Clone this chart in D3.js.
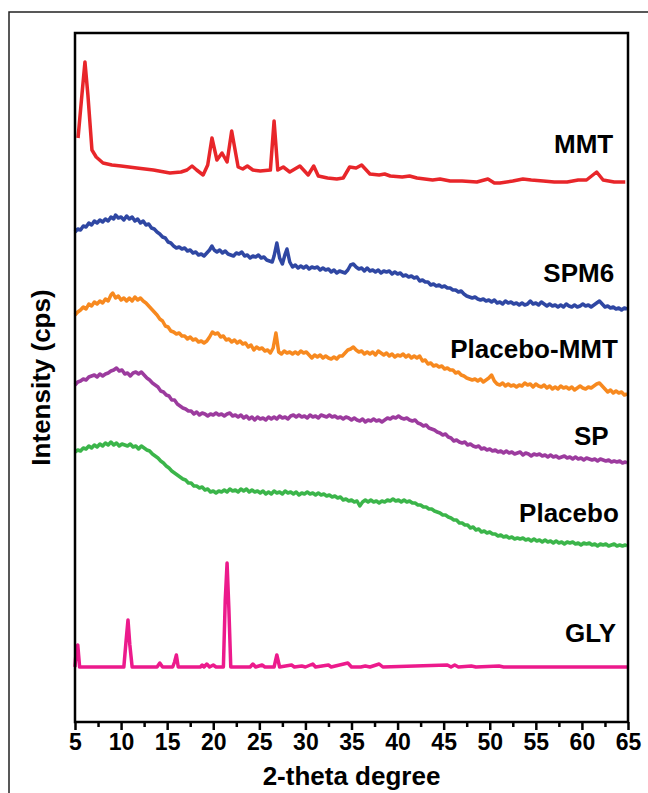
<!DOCTYPE html>
<html>
<head>
<meta charset="utf-8">
<script src="https://cdn.jsdelivr.net/npm/d3@7/dist/d3.min.js"></script>
<style>
  html, body { margin: 0; padding: 0; background: #fff; }
  svg { display: block; }
  text { font-family: "Liberation Sans", Arial, sans-serif; font-weight: bold; fill: #000; }
</style>
</head>
<body>
<svg id="chart" width="648" height="793"></svg>
<script>
// ---------------- DATA (2-theta in degrees, intensity in arbitrary units incl. stacking offset) ----------------
const xTicks = [5, 10, 15, 20, 25, 30, 35, 40, 45, 50, 55, 60, 65];
const seriesNames = ["MMT", "SPM6", "Placebo-MMT", "SP", "Placebo", "GLY"];
const seriesColors = ["#e8262a", "#2f47a3", "#f7891f", "#9c3b9e", "#3bb54a", "#ec1a8c"];

const mmt = [[5.33,584],[5.7,622],[6.08,660],[6.4,627],[6.84,572],[7.3,565],[8.04,559],[9,557],[10,556],[11.7,554],[13.5,552],[15.3,549],[16.5,550],[17.15,552],[17.7,556],[18.2,552],[18.9,547],[19.4,557],[19.86,584],[20.4,562],[20.95,569],[21.5,560],[22.0,591],[22.7,555],[23.2,553],[23.7,556],[24.3,552],[25.1,551],[26.2,552],[26.6,601],[27.0,552],[27.6,555],[28.3,550],[29.4,556],[30.3,547],[30.9,556],[31.4,546],[32.4,544],[33.4,543],[34.1,544],[34.8,555],[35.5,554],[36.1,557],[37.0,548],[38,547],[38.6,548],[39.2,546],[40.5,545],[41.3,546],[42.1,544],[43.8,542],[44.6,543],[45.7,541],[47,541],[48.6,540],[49.8,543],[50.5,539],[51.1,539],[52.5,541],[53.6,543],[54.5,542],[55.8,541],[57,540],[58.4,540],[59.6,542],[60.5,542],[61.6,550],[62.3,542],[63.5,540],[64.7,540]];

const spm6 = [[5.0,490],[5.3,493],[5.6,492],[5.9,496],[6.2,495],[6.5,499],[6.8,497],[7.1,501],[7.4,499],[7.7,502],[8.0,500],[8.3,503],[8.6,501],[8.9,505],[9.2,503],[9.4,507],[9.7,504],[10.0,505],[10.3,502],[10.6,506],[10.9,503],[11.2,505],[11.5,501],[11.8,503],[12.1,499],[12.4,501],[12.7,497],[13.0,498],[13.3,494],[13.6,493],[13.9,490],[14.2,488],[14.5,485],[14.8,484],[15.1,480],[15.4,479],[15.7,476],[16.0,474],[16.3,475],[16.6,473],[16.9,474],[17.2,471],[17.5,472],[17.8,469],[18.1,470],[18.4,467],[18.7,468],[19.0,466],[19.3,469],[19.6,472],[19.86,476],[20.1,472],[20.4,470],[20.7,472],[21.0,469],[21.3,471],[21.6,468],[21.9,467],[22.2,466],[22.5,469],[22.8,468],[23.1,470],[23.4,466],[23.7,467],[24.0,464],[24.3,466],[24.6,465],[24.9,467],[25.2,464],[25.5,465],[25.8,462],[26.1,461],[26.4,460],[26.6,466],[26.9,479],[27.2,464],[27.5,458],[27.8,468],[28.0,473],[28.3,460],[28.6,455],[28.9,457],[29.2,454],[29.5,456],[29.8,454],[30.1,456],[30.4,453],[30.7,455],[31.0,454],[31.3,455],[31.6,452],[31.9,454],[32.2,452],[32.5,453],[32.8,450],[33.1,452],[33.4,449],[33.7,451],[34.0,450],[34.3,449],[34.6,452],[34.9,457],[35.2,458],[35.5,455],[35.8,453],[36.1,454],[36.4,451],[36.7,454],[37.0,451],[37.3,452],[37.6,450],[37.9,452],[38.2,449],[38.5,451],[38.8,450],[39.1,451],[39.4,448],[39.7,450],[40.0,448],[40.3,449],[40.6,446],[40.9,447],[41.2,445],[41.5,446],[41.8,444],[42.1,445],[42.4,441],[42.7,442],[43.0,440],[43.3,440],[43.6,437],[43.9,438],[44.2,436],[44.5,437],[44.8,435],[45.1,436],[45.4,434],[45.7,434],[46.0,432],[46.3,432],[46.6,430],[46.9,431],[47.2,428],[47.5,426],[47.8,425],[48.1,424],[48.4,425],[48.7,423],[49.0,422],[49.3,423],[49.6,421],[49.9,422],[50.2,420],[50.5,422],[50.8,419],[51.1,420],[51.4,418],[51.7,421],[52.0,419],[52.3,420],[52.6,418],[52.9,419],[53.2,417],[53.5,419],[53.8,417],[54.1,418],[54.4,421],[54.7,418],[55.0,419],[55.3,417],[55.6,420],[55.9,418],[56.2,416],[56.5,418],[56.8,416],[57.1,417],[57.4,415],[57.7,417],[58.0,415],[58.3,418],[58.6,416],[58.9,415],[59.2,417],[59.5,415],[59.8,416],[60.1,418],[60.4,416],[60.7,417],[61.0,415],[61.3,417],[61.6,419],[61.9,421],[62.2,418],[62.5,415],[62.8,416],[63.1,414],[63.4,415],[63.7,413],[64.0,414],[64.3,412],[64.6,414],[64.9,413]];

const placeboMmt = [[5.0,407],[5.3,410],[5.6,412],[5.9,415],[6.2,413],[6.5,418],[6.8,416],[7.1,420],[7.4,418],[7.7,421],[8.0,419],[8.3,423],[8.6,421],[8.9,427],[9.1,429],[9.4,424],[9.7,426],[10.0,422],[10.3,424],[10.6,421],[10.9,424],[11.2,421],[11.5,425],[11.8,422],[12.1,424],[12.4,421],[12.7,419],[13.0,416],[13.3,413],[13.6,410],[13.9,407],[14.2,403],[14.5,401],[14.8,396],[15.1,395],[15.4,391],[15.7,390],[16.0,388],[16.3,389],[16.6,386],[16.9,386],[17.2,383],[17.5,385],[17.8,382],[18.1,383],[18.4,380],[18.7,381],[19.0,379],[19.3,381],[19.6,385],[19.9,390],[20.2,388],[20.5,389],[20.8,385],[21.1,386],[21.4,382],[21.7,383],[22.0,380],[22.3,382],[22.6,379],[22.9,381],[23.2,378],[23.5,379],[23.8,375],[24.1,377],[24.4,372],[24.7,375],[25.0,373],[25.3,374],[25.6,371],[25.9,372],[26.2,369],[26.5,374],[26.8,389],[27.1,370],[27.4,368],[27.7,371],[28.0,369],[28.3,370],[28.6,368],[28.9,370],[29.2,368],[29.5,371],[29.8,369],[30.1,370],[30.4,367],[30.7,364],[31.0,367],[31.3,365],[31.6,367],[31.9,364],[32.2,366],[32.5,364],[32.8,363],[33.1,365],[33.4,363],[33.7,366],[34.0,366],[34.3,369],[34.6,372],[34.9,373],[35.2,375],[35.5,372],[35.8,370],[36.1,371],[36.4,368],[36.7,370],[37.0,368],[37.3,370],[37.6,367],[37.9,371],[38.2,369],[38.5,367],[38.8,369],[39.1,366],[39.4,368],[39.7,365],[40.0,367],[40.3,366],[40.6,368],[40.9,365],[41.2,367],[41.5,364],[41.8,366],[42.1,364],[42.4,366],[42.7,361],[43.0,362],[43.3,358],[43.6,359],[43.9,356],[44.2,357],[44.5,355],[44.8,356],[45.1,353],[45.4,354],[45.7,352],[46.0,352],[46.3,349],[46.6,350],[46.9,347],[47.2,346],[47.5,344],[47.8,343],[48.1,342],[48.4,343],[48.7,341],[49.0,343],[49.3,340],[49.6,342],[49.9,344],[50.2,347],[50.5,341],[50.8,338],[51.1,337],[51.4,339],[51.7,336],[52.0,338],[52.3,336],[52.6,337],[52.9,335],[53.2,337],[53.5,336],[53.8,339],[54.1,337],[54.4,338],[54.7,335],[55.0,338],[55.3,336],[55.6,335],[55.9,337],[56.2,334],[56.5,336],[56.8,333],[57.1,335],[57.4,333],[57.7,336],[58.0,334],[58.3,335],[58.6,333],[58.9,335],[59.2,332],[59.5,334],[59.8,336],[60.1,334],[60.4,333],[60.7,335],[61.0,334],[61.3,336],[61.6,338],[61.9,339],[62.2,336],[62.5,333],[62.8,330],[63.1,332],[63.4,329],[63.7,331],[64.0,329],[64.3,330],[64.6,327],[64.9,328]];

const sp = [[5.0,337],[5.3,340],[5.6,341],[5.9,343],[6.2,342],[6.5,345],[6.8,346],[7.1,347],[7.4,345],[7.7,348],[8.0,346],[8.3,348],[8.6,349],[8.9,351],[9.2,352],[9.5,354],[9.8,351],[10.1,352],[10.4,348],[10.7,349],[11.0,346],[11.3,349],[11.6,350],[11.9,348],[12.2,350],[12.5,347],[12.8,344],[13.1,342],[13.4,339],[13.7,337],[14.0,335],[14.3,331],[14.6,330],[14.9,327],[15.2,326],[15.5,322],[15.8,322],[16.1,318],[16.4,316],[16.7,314],[17.0,313],[17.3,311],[17.6,311],[17.9,308],[18.2,310],[18.5,307],[18.8,309],[19.1,308],[19.4,306],[19.7,308],[20.0,307],[20.3,309],[20.6,307],[20.9,308],[21.2,306],[21.5,308],[21.8,309],[22.1,306],[22.4,307],[22.7,305],[23.0,307],[23.3,304],[23.6,306],[23.9,303],[24.2,305],[24.5,302],[24.8,305],[25.1,303],[25.4,304],[25.7,302],[26.0,305],[26.3,303],[26.6,305],[26.9,303],[27.2,306],[27.5,304],[27.8,305],[28.1,303],[28.4,306],[28.7,307],[29.0,305],[29.3,307],[29.6,305],[29.9,306],[30.2,304],[30.5,307],[30.8,305],[31.1,306],[31.4,304],[31.7,307],[32.0,306],[32.3,305],[32.6,307],[32.9,305],[33.2,306],[33.5,304],[33.8,305],[34.1,303],[34.4,305],[34.7,304],[35.0,302],[35.3,304],[35.6,302],[35.9,301],[36.2,303],[36.5,300],[36.8,302],[37.1,301],[37.4,303],[37.7,301],[38.0,302],[38.3,300],[38.6,302],[38.9,304],[39.2,303],[39.5,305],[39.8,304],[40.1,306],[40.4,304],[40.7,303],[41.0,304],[41.3,302],[41.6,301],[41.9,302],[42.2,299],[42.5,298],[42.8,296],[43.1,297],[43.4,294],[43.7,293],[44.0,292],[44.3,290],[44.6,289],[44.9,287],[45.2,288],[45.5,285],[45.8,284],[46.1,281],[46.4,282],[46.7,280],[47.0,279],[47.3,280],[47.6,277],[47.9,278],[48.2,276],[48.5,275],[48.8,276],[49.1,273],[49.4,274],[49.7,272],[50.0,273],[50.3,271],[50.6,272],[50.9,270],[51.2,271],[51.5,269],[51.8,271],[52.1,269],[52.4,270],[52.7,268],[53.0,269],[53.3,270],[53.6,267],[53.9,269],[54.2,268],[54.5,266],[54.8,268],[55.1,267],[55.4,268],[55.7,266],[56.0,267],[56.3,265],[56.6,267],[56.9,265],[57.2,266],[57.5,264],[57.8,265],[58.1,266],[58.4,264],[58.7,265],[59.0,263],[59.3,265],[59.6,263],[59.9,264],[60.2,262],[60.5,264],[60.8,263],[61.1,262],[61.4,263],[61.7,261],[62.0,263],[62.3,262],[62.6,261],[62.9,262],[63.2,260],[63.5,261],[63.8,260],[64.1,261],[64.4,259],[64.7,260],[64.9,259]];

const placebo = [[5.0,270],[5.3,272],[5.6,271],[5.9,274],[6.2,273],[6.5,276],[6.8,274],[7.1,277],[7.4,275],[7.7,278],[8.0,276],[8.3,279],[8.6,277],[8.9,280],[9.2,277],[9.5,279],[9.8,276],[10.1,278],[10.4,277],[10.7,276],[11.0,278],[11.3,275],[11.6,276],[11.9,273],[12.2,276],[12.5,274],[12.8,272],[13.1,271],[13.4,268],[13.7,266],[14.0,264],[14.3,261],[14.6,259],[14.9,256],[15.2,254],[15.5,251],[15.8,249],[16.1,247],[16.4,245],[16.7,243],[17.0,242],[17.3,239],[17.6,239],[17.9,236],[18.2,236],[18.5,234],[18.8,235],[19.1,232],[19.4,233],[19.7,230],[20.0,231],[20.3,229],[20.6,231],[20.9,230],[21.2,232],[21.5,230],[21.8,233],[22.1,231],[22.4,232],[22.7,230],[23.0,233],[23.3,231],[23.6,233],[23.9,230],[24.2,232],[24.5,230],[24.8,231],[25.1,229],[25.4,231],[25.7,228],[26.0,230],[26.3,228],[26.6,231],[26.9,229],[27.2,230],[27.5,228],[27.8,231],[28.1,229],[28.4,230],[28.7,228],[29.0,230],[29.3,227],[29.6,229],[29.9,228],[30.2,230],[30.5,228],[30.8,229],[31.1,227],[31.4,229],[31.7,227],[32.0,228],[32.3,226],[32.6,227],[32.9,225],[33.2,226],[33.5,224],[33.8,225],[34.1,222],[34.4,223],[34.7,221],[35.0,222],[35.3,220],[35.6,221],[35.9,216],[36.2,220],[36.5,222],[36.8,220],[37.1,222],[37.4,220],[37.7,221],[38.0,219],[38.3,221],[38.6,220],[38.9,222],[39.2,221],[39.5,223],[39.8,221],[40.1,222],[40.4,220],[40.7,222],[41.0,220],[41.3,221],[41.6,219],[41.9,219],[42.2,217],[42.5,217],[42.8,215],[43.1,215],[43.4,213],[43.7,213],[44.0,211],[44.3,210],[44.6,209],[44.9,207],[45.2,207],[45.5,205],[45.8,204],[46.1,202],[46.4,202],[46.7,199],[47.0,199],[47.3,197],[47.6,197],[47.9,194],[48.2,195],[48.5,192],[48.8,193],[49.1,190],[49.4,191],[49.7,189],[50.0,190],[50.3,188],[50.6,188],[50.9,186],[51.2,187],[51.5,185],[51.8,186],[52.1,184],[52.4,185],[52.7,183],[53.0,184],[53.3,183],[53.6,184],[53.9,182],[54.2,183],[54.5,181],[54.8,183],[55.1,181],[55.4,182],[55.7,180],[56.0,182],[56.3,180],[56.6,181],[56.9,179],[57.2,181],[57.5,179],[57.8,180],[58.1,178],[58.4,180],[58.7,179],[59.0,180],[59.3,178],[59.6,179],[59.9,177],[60.2,179],[60.5,178],[60.8,179],[61.1,177],[61.4,178],[61.7,176],[62.0,178],[62.3,177],[62.6,178],[62.9,176],[63.2,177],[63.5,178],[63.8,176],[64.1,177],[64.4,176],[64.7,177],[64.9,176]];

const gly = [[5.0,55],[5.15,74],[5.3,77],[5.5,55],[10.3,55],[10.55,82],[10.75,102],[10.95,77],[11.2,55],[13.9,55],[14.2,59],[14.5,55],[15.6,55],[15.8,60],[16.0,67],[16.2,55],[18.6,55],[18.8,57],[19.0,55],[19.3,58],[19.6,55],[20.0,57],[20.3,55],[21.1,55],[21.3,122],[21.5,159],[21.7,112],[21.9,55],[24.0,55],[24.3,58],[24.6,55],[25.3,57],[25.6,55],[26.6,55],[26.9,67],[27.2,55],[28.5,57],[28.8,55],[29.6,56],[30.0,55],[30.8,58],[31.1,55],[32.5,57],[32.8,55],[34.6,59],[35.0,55],[36.0,55],[36.5,56],[37.0,55],[38.0,58],[38.4,55],[45.4,57],[45.8,55],[46.2,57],[46.6,55],[48.0,56],[48.5,55],[51.0,56],[51.5,55],[65.0,55]];

const allSeries = [mmt, spm6, placeboMmt, sp, placebo, gly];
// label anchor (right edge) in data coords
const labelTheta = [63.4, 63.5, 63.9, 62.9, 64.0, 63.7];
const labelI = [569, 440, 364, 277, 200, 80];

// ---------------- CHART ----------------
const svg = d3.select("#chart");
const W = 648, H = 793;
const margin = {left: 75, right: 20, top: 33, bottom: 71};

// outer border
svg.append("rect").attr("x", 9).attr("y", 12).attr("width", 700).attr("height", 900)
  .attr("fill", "none").attr("stroke", "#222").attr("stroke-width", 1.5);

const x = d3.scaleLinear().domain([5, 65]).range([margin.left, W - margin.right]);
const y = d3.scaleLinear().domain([0, 689]).range([H - margin.bottom, margin.top]);

// traces
const line = d3.line().x(d => x(d[0])).y(d => y(d[1]));
allSeries.forEach((s, i) => {
  svg.append("path").datum(s)
    .attr("d", line)
    .attr("fill", "none")
    .attr("stroke", seriesColors[i])
    .attr("stroke-width", 3.5)
    .attr("stroke-linejoin", "round");
});

// frame
svg.append("rect")
  .attr("x", x(5)).attr("y", y(689))
  .attr("width", x(65) - x(5)).attr("height", y(0) - y(689))
  .attr("fill", "none").attr("stroke", "#000").attr("stroke-width", 2.5);

// x axis
const xAxis = d3.axisBottom(x).tickValues(xTicks).tickSize(8).tickPadding(4).tickFormat(d3.format("d"));
const gx = svg.append("g").attr("transform", `translate(0,${y(0)})`).call(xAxis);
gx.select(".domain").remove();
gx.selectAll(".tick line").attr("stroke", "#000").attr("stroke-width", 2.5);
gx.selectAll(".tick text").attr("font-size", 23).attr("font-family", "Liberation Sans, Arial, sans-serif").attr("font-weight", "bold");

const minorTicks = d3.range(7.5, 65, 5);
const gm = svg.append("g").attr("transform", `translate(0,${y(0)})`)
  .call(d3.axisBottom(x).tickValues(minorTicks).tickSize(5).tickFormat(""));
gm.select(".domain").remove();
gm.selectAll(".tick line").attr("stroke", "#000").attr("stroke-width", 2.5);

// axis titles
svg.append("text").attr("x", (x(5) + x(65)) / 2).attr("y", 785)
  .attr("text-anchor", "middle").attr("font-size", 26).text("2-theta degree");
svg.append("text").attr("transform", `translate(50,${(y(0) + y(689)) / 2}) rotate(-90)`)
  .attr("text-anchor", "middle").attr("font-size", 26).text("Intensity (cps)");

// series labels
seriesNames.forEach((n, i) => {
  svg.append("text").attr("x", x(labelTheta[i])).attr("y", y(labelI[i]))
    .attr("text-anchor", "end").attr("font-size", 26).text(n);
});
</script>
</body>
</html>
